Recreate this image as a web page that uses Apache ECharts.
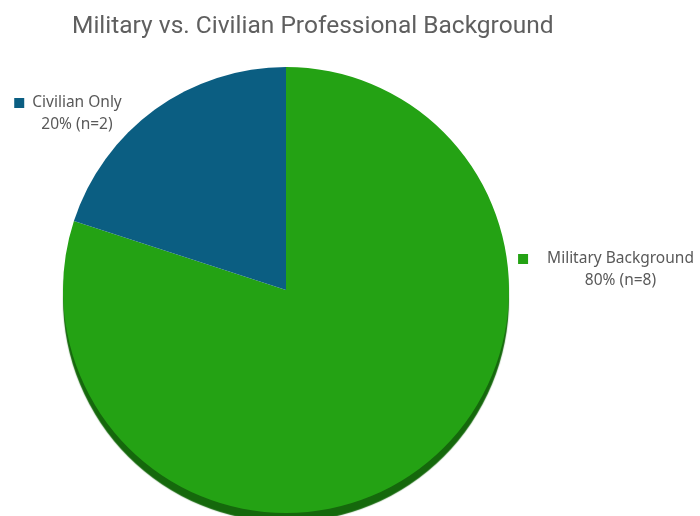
<!DOCTYPE html>
<html>
<head>
<meta charset="utf-8">
<style>
  html, body { margin: 0; padding: 0; background: #ffffff; }
  #chart { width: 700px; height: 516px; }
</style>
<script src="https://cdn.jsdelivr.net/npm/echarts@6/dist/echarts.min.js"></script>
</head>
<body>
<div id="chart"></div>
<script>
// ---- data ----
const titleText = 'Military vs. Civilian Professional Background';
const categories = ['Military Background', 'Civilian Only'];
const counts = [8, 2];
const percents = [80, 20];
const colors = ['#24A214', '#0B5E82'];

// ---- presentation ----
const markerGap = [19, 8];
const labelAnchors = [[606, 270], [68, 114]];

const chart = echarts.init(document.getElementById('chart'), null, { renderer: 'canvas' });

const seriesData = categories.map((name, i) => ({
  name: name,
  value: counts[i],
  itemStyle: i === 0
    ? { color: colors[i], shadowColor: '#15680c', shadowBlur: 1, shadowOffsetY: 9, shadowOffsetX: 0 }
    : { color: colors[i] },
  label: {
    rich: {
      m: { width: 10, height: 10, backgroundColor: colors[i] },
      g: { width: markerGap[i] },
      p: { width: 10 + markerGap[i] },
      t: { fontSize: 15.5, color: '#595959', fontFamily: 'Noto Sans', lineHeight: 22 },
      v: { fontSize: 15.5, color: '#595959', fontFamily: 'Noto Sans', lineHeight: 22 }
    }
  }
}));

chart.setOption({
  backgroundColor: '#ffffff',
  animation: false,
  title: {
    text: titleText,
    left: 67,
    top: 9,
    textStyle: { fontFamily: 'Roboto', fontSize: 24.5, fontWeight: 'normal', color: '#5f5f5f' }
  },
  series: [{
    type: 'pie',
    center: [286, 290],
    radius: [0, 223],
    startAngle: 90,
    clockwise: true,
    silent: true,
    data: seriesData,
    itemStyle: { borderWidth: 0 },
    label: {
      show: true,
      position: 'outside',
      align: 'center',
      overflow: 'none',
      width: 200,
      formatter: function (p) {
        return '{m|}{g|}{t|' + p.name + '}\n{p|}{v|' + percents[p.dataIndex] + '% (n=' + p.value + ')}';
      }
    },
    labelLine: { show: false },
    labelLayout: function (params) {
      const a = labelAnchors[params.dataIndex];
      return { x: a[0], y: a[1], align: 'center', verticalAlign: 'middle' };
    }
  }]
});
</script>
</body>
</html>
